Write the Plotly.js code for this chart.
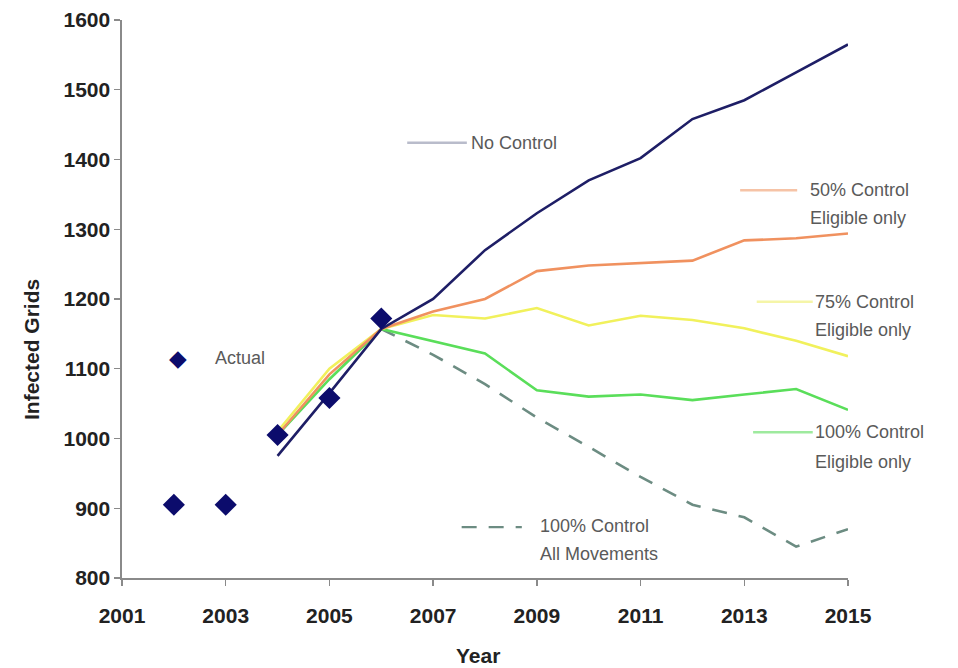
<!DOCTYPE html>
<html>
<head>
<meta charset="utf-8">
<script src="https://cdn.plot.ly/plotly-3.0.1.min.js"></script>
<style>
  html, body { margin: 0; padding: 0; background: #fff; }
  #chart { width: 958px; height: 668px; }
</style>
</head>
<body>
<div id="chart"></div>
<script>
// Observed counts
const actualYears = [2002, 2003, 2004, 2005, 2006];
const actualGrids = [905, 905, 1005, 1058, 1172];

// Model scenarios
const years = [2004, 2005, 2006, 2007, 2008, 2009, 2010, 2011, 2012, 2013, 2014, 2015];
const noControl = [975, 1065, 1157, 1200, 1270, 1323, 1370, 1402, 1458, 1485, 1525, 1565];
const control50 = [1005, 1092, 1157, 1182, 1200, 1240, 1248, 1252, 1255, 1284, 1287, 1294];
const control75 = [1010, 1100, 1157, 1177, 1172, 1187, 1162, 1176, 1170, 1158, 1140, 1118];
const control100 = [1005, 1085, 1157, 1140, 1122, 1069, 1060, 1063, 1055, 1063, 1071, 1041];

const allMoveYears = [2006, 2007, 2008, 2009, 2010, 2011, 2012, 2013, 2014, 2015];
const control100All = [1157, 1120, 1078, 1030, 988, 945, 905, 887, 845, 870];

const yTicks = [800, 900, 1000, 1100, 1200, 1300, 1400, 1500, 1600];
const xTicks = [2001, 2003, 2005, 2007, 2009, 2011, 2013, 2015];

const navy = '#1e1e66';
const orange = '#f0915f';
const yellow = '#f1f15c';
const green = '#5ade5a';
const dashGrey = '#6c8c82';
const labelGrey = '#5a5a5a';
const dashPattern = '15px,12px';

const lineTrace = (x, y, color, dash) => ({
    x: x, y: y, type: 'scatter', mode: 'lines',
    line: { color: color, width: 2.6, dash: dash || 'solid' },
    hoverinfo: 'skip'
});

const traces = [
    lineTrace(allMoveYears, control100All, dashGrey, dashPattern),
    lineTrace(years, control100, green),
    lineTrace(years, control75, yellow),
    lineTrace(years, control50, orange),
    lineTrace(years, noControl, navy),
    {
        x: actualYears, y: actualGrids, type: 'scatter', mode: 'markers',
        marker: { symbol: 'diamond', size: 17, color: '#0c0c6c' },
        hoverinfo: 'skip'
    }
];

// in-plot key: [x0, x1, y, colour, dash]
const keyLines = [
    [2006.5, 2007.65, 1424, '#b9bccb', 'solid'],
    [2012.92, 2014.02, 1356, '#f6c3a6', 'solid'],
    [2013.24, 2014.32, 1196, '#f5f5a8', 'solid'],
    [2013.17, 2014.32, 1009, '#9eea9e', 'solid'],
    [2007.55, 2008.71, 873, dashGrey, dashPattern]
];

const shapes = keyLines.map(k => ({
    type: 'line', xref: 'x', yref: 'y',
    x0: k[0], x1: k[1], y0: k[2], y1: k[2],
    line: { color: k[3], width: 2.4, dash: k[4] }
}));

// [x, y, text]
const keyTexts = [
    [2007.7, 1424, 'No Control'],
    [2014.23, 1356, '50% Control'],
    [2014.23, 1316, 'Eligible only'],
    [2014.32, 1196, '75% Control'],
    [2014.32, 1156, 'Eligible only'],
    [2014.32, 1009, '100% Control'],
    [2014.32, 966, 'Eligible only'],
    [2009.02, 875, '100% Control'],
    [2009.02, 835, 'All Movements'],
    [2002.75, 1115, 'Actual']
];

const annotations = keyTexts.map(t => ({
    x: t[0], y: t[1], xref: 'x', yref: 'y', text: t[2],
    showarrow: false, xanchor: 'left', yanchor: 'middle',
    font: { family: 'Liberation Sans, Arial, sans-serif', size: 18, color: labelGrey }
}));

annotations.push({
    x: 2002.08, y: 1115, xref: 'x', yref: 'y', text: '◆',
    showarrow: false, xanchor: 'center', yanchor: 'middle',
    font: { family: 'DejaVu Sans, sans-serif', size: 23, color: '#0c0c6c' }
});

// axis titles placed by pixel to sit where the original has them
const W = 958, H = 668;
const m = { l: 122, r: 110, t: 20, b: 90 };
const titleFont = { family: 'Liberation Sans, Arial, sans-serif', size: 21, color: '#222', weight: 'bold' };
const paperX = px => (px - m.l) / (W - m.l - m.r);
const paperY = py => (H - m.b - py) / (H - m.t - m.b);

annotations.push({
    x: paperX(32), y: paperY(350), xref: 'paper', yref: 'paper',
    text: 'Infected Grids', showarrow: false, textangle: -90,
    xanchor: 'center', yanchor: 'middle', font: titleFont
});
annotations.push({
    x: paperX(478), y: paperY(655), xref: 'paper', yref: 'paper',
    text: 'Year', showarrow: false,
    xanchor: 'center', yanchor: 'middle', font: titleFont
});

const tickFont = { family: 'Liberation Sans, Arial, sans-serif', size: 21, color: '#222', weight: 'bold' };

const layout = {
    width: W, height: H,
    margin: m,
    paper_bgcolor: '#fff', plot_bgcolor: '#fff',
    showlegend: false,
    xaxis: {
        range: [2001, 2015],
        tickvals: xTicks, ticktext: xTicks.map(String),
        showgrid: false, zeroline: false,
        showline: true, linecolor: '#8a8a8a', linewidth: 1.6,
        ticks: 'outside', ticklen: 6, tickcolor: '#8a8a8a', tickwidth: 1.4,
        ticklabelstandoff: 12,
        tickfont: tickFont
    },
    yaxis: {
        range: [800, 1600],
        tickvals: yTicks, ticktext: yTicks.map(String),
        showgrid: false, zeroline: false,
        showline: true, linecolor: '#8a8a8a', linewidth: 1.6,
        ticks: 'outside', ticklen: 6, tickcolor: '#8a8a8a', tickwidth: 1.4,
        tickfont: tickFont
    },
    shapes: shapes,
    annotations: annotations
};

Plotly.newPlot('chart', traces, layout, { staticPlot: true, displayModeBar: false });
</script>
</body>
</html>
